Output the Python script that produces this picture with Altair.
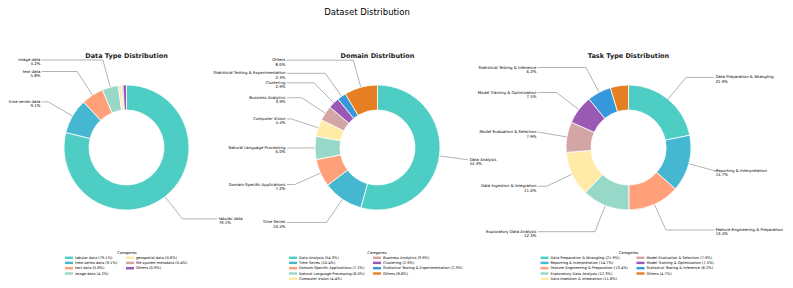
import altair as alt
import pandas as pd

main_title = "Dataset Distribution"
panel_titles = ["Data Type Distribution", "Domain Distribution", "Task Type Distribution"]

dtype_cats = ["tabular data", "time series data", "text data", "image data",
              "geospatial data", "file system metadata", "Others"]
dtype_vals = [79.1, 9.1, 5.8, 4.2, 0.8, 0.4, 0.9]
dtype_show = [True, True, True, True, False, False, False]

domain_cats = ["Data Analysis", "Time Series", "Domain-Specific Applications",
               "Natural Language Processing", "Computer Vision", "Business Analytics",
               "Clustering", "Statistical Testing & Experimentation", "Others"]
domain_vals = [54.3, 10.4, 7.2, 6.0, 4.4, 3.9, 2.9, 2.3, 8.6]
domain_show = [True] * 9

task_cats = ["Data Preparation & Wrangling", "Reporting & Interpretation",
             "Feature Engineering & Preparation", "Exploratory Data Analysis",
             "Data Ingestion & Integration", "Model Evaluation & Selection",
             "Model Training & Optimization", "Statistical Testing & Inference", "Others"]
task_vals = [21.9, 14.7, 13.4, 12.3, 11.6, 7.9, 7.5, 6.2, 4.7]
task_show = [True] * 8 + [False]

palette = ["#4ECDC4", "#45B7D1", "#FFA07A", "#98D8C8", "#FFEAA7",
           "#D4A5A5", "#9B59B6", "#3498DB", "#E67E22"]

F = "DejaVu Sans"
R = 62.5
R2 = 37.5
K = 1.45
CY = 139.5


def panel(cats, vals, show, cx, title, lx, ly, lshift=0.0, rshift=0.0):
    n = len(cats)
    df = pd.DataFrame({"cat": cats, "pct": vals, "show": show, "idx": list(range(n))})
    df["leg"] = [f"{c} ({v:.1f}%)" for c, v in zip(cats, vals)]
    dom = list(df.leg)
    rng = palette[:n]

    base = alt.Chart(df)
    arc = base.mark_arc(outerRadius=R, innerRadius=R2, stroke="white", strokeWidth=0.8).encode(
        theta=alt.Theta("pct:Q", stack=True),
        order=alt.Order("idx:Q", sort="ascending"),
        color=alt.Color("leg:N", scale=alt.Scale(domain=dom, range=rng),
                        legend=alt.Legend(orient="none", legendX=lx, legendY=ly, columns=2,
                                          title="Categories", titleFontSize=3.6,
                                          titleFontWeight="normal", titleAnchor="middle",
                                          titleFont=F, titlePadding=1.0, titleColor="black",
                                          labelFont=F, labelFontSize=3.6, labelColor="black",
                                          symbolType="M-2,-0.6H2V0.6H-2Z", symbolSize=16,
                                          symbolStrokeWidth=0, symbolOpacity=1,
                                          labelOffset=4, rowPadding=1.3, columnPadding=8,
                                          labelLimit=400, padding=0)),
        x=alt.value(cx), y=alt.value(CY),
    )

    calc = base.transform_joinaggregate(total="sum(pct)").transform_window(
        cum="sum(pct)", sort=[alt.SortField("idx")], frame=[None, 0]
    ).transform_filter("datum.show").transform_calculate(
        a="2*PI*(datum.cum - datum.pct/2)/datum.total"
    ).transform_calculate(
        sg="sin(datum.a) >= 0 ? 1 : -1"
    ).transform_calculate(
        sh=f"datum.sg < 0 ? {lshift} : {rshift}"
    ).transform_calculate(
        x0=f"{cx} + {R}*sin(datum.a)",
        y0=f"{CY} - {R}*cos(datum.a)",
        x1=f"{cx} + {K * R}*sin(datum.a)",
        y1=f"{CY} - {K * R}*cos(datum.a)",
        x2=f"{cx} + {K * R}*datum.sg + datum.sh",
        xt=f"{cx} + {K * R + 1.5}*datum.sg + datum.sh",
        lab="datum.cat + '\\n' + format(datum.pct, '.1f') + '%'",
    )
    lc = "#808080"
    r1 = calc.mark_rule(color=lc, strokeWidth=0.6).encode(
        x=alt.X("x0:Q", scale=None, axis=None), y=alt.Y("y0:Q", scale=None, axis=None),
        x2="x1:Q", y2="y1:Q")
    r2 = calc.mark_rule(color=lc, strokeWidth=0.6).encode(
        x=alt.X("x1:Q", scale=None, axis=None), y=alt.Y("y1:Q", scale=None, axis=None),
        x2="x2:Q")
    tk = dict(baseline="middle", fontSize=3.9, lineHeight=4.4, lineBreak="\n", font=F, color="black")
    tl = calc.transform_filter("datum.sg < 0").mark_text(align="right", **tk).encode(
        x=alt.X("xt:Q", scale=None, axis=None), y=alt.Y("y1:Q", scale=None, axis=None), text="lab:N")
    tr = calc.transform_filter("datum.sg > 0").mark_text(align="left", **tk).encode(
        x=alt.X("xt:Q", scale=None, axis=None), y=alt.Y("y1:Q", scale=None, axis=None), text="lab:N")
    tt = alt.Chart(pd.DataFrame({"t": [title]})).mark_text(
        font=F, fontSize=6.5, fontWeight="bold", color="#222", baseline="middle", align="center"
    ).encode(text="t:N", x=alt.value(cx), y=alt.value(48))
    return alt.layer(r1, r2, arc, tl, tr, tt)


p1 = panel(dtype_cats, dtype_vals, dtype_show, 118.5, panel_titles[0], 59, 243, lshift=6)
p2 = panel(domain_cats, domain_vals, domain_show, 369.5, panel_titles[1], 283, 243)
p3 = panel(task_cats, task_vals, task_show, 620.5, panel_titles[2], 534.5, 243, rshift=-5)

mt = alt.Chart(pd.DataFrame({"t": [main_title]})).mark_text(
    font=F, fontSize=8.5, color="black", baseline="top", align="center"
).encode(text="t:N", x=alt.value(359), y=alt.value(0))

chart = alt.layer(p1, p2, p3, mt).resolve_scale(
    color="independent", theta="independent"
).properties(width=777, height=272, padding=0, autosize=alt.AutoSizeParams(type="none"),
             background="white"
).configure_view(stroke=None)

chart.save("out.html", embed_options={"renderer": "svg", "actions": False})
